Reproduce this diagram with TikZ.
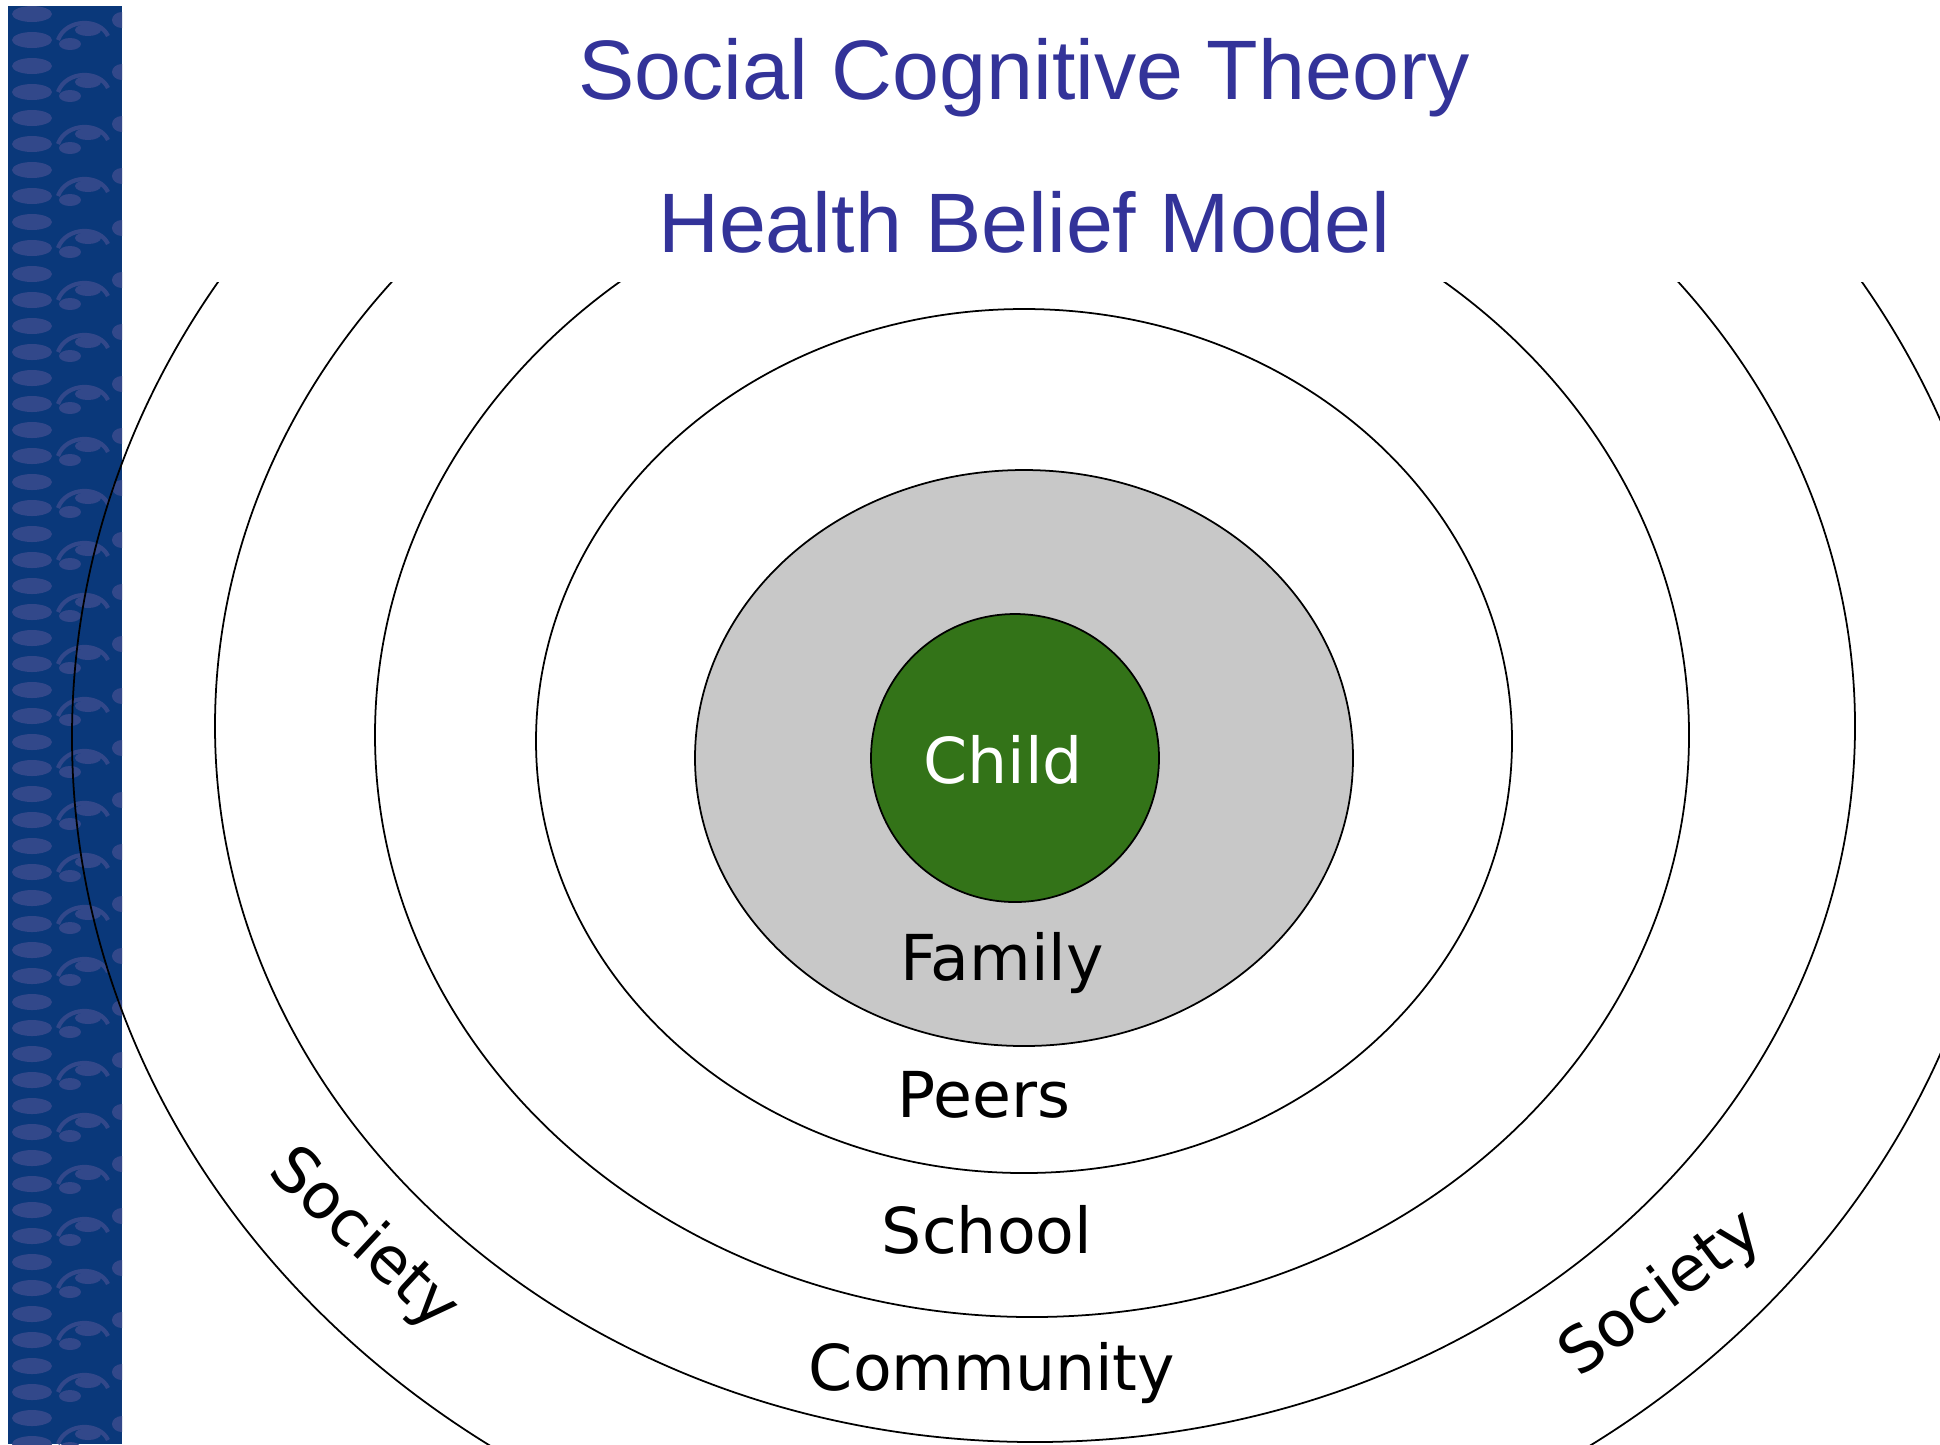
\documentclass[tikz,border=0pt]{standalone}
\usepackage{fontspec}
\setmainfont{DejaVu Sans}
\newfontfamily\titlefont{Liberation Sans}
\usepackage{tikz}
\usetikzlibrary{positioning}

\definecolor{titleblue}{RGB}{51,51,153}
\definecolor{barblue}{RGB}{10,56,122}
\definecolor{barspot}{RGB}{50,72,138}
\definecolor{familygray}{RGB}{200,200,200}
\definecolor{childgreen}{RGB}{51,115,24}

\tikzset{
  ringline/.style={draw=black, line width=0.5pt},
  ringtext/.style={font=\fontsize{18}{20}\selectfont, anchor=base, inner sep=0pt},
  heading/.style={font=\titlefont\fontsize{24}{28}\selectfont, text=titleblue, anchor=base, inner sep=0pt}
}

\begin{document}
\begin{tikzpicture}[x=0.01cm, y=-0.01cm]
    \useasboundingbox (0,0) rectangle (1940,1444);

    % patterned side bar
    \fill[barblue] (8,6) rectangle (122,1444);
    \begin{scope}
        \clip (8,6) rectangle (122,1444);
        \foreach \y in {0,26,...,1430}
            \fill[barspot] (32,\y+14) ellipse [x radius=20, y radius=8];
        \foreach \y in {0,52,...,1430} {
            \fill[barspot] (70,\y+44) ellipse [x radius=11, y radius=6];
            \fill[barspot] (88,\y+30) ellipse [x radius=13, y radius=6];
            \draw[barspot, line width=1.2pt] (58,\y+40) .. controls (66,\y+18) and (100,\y+18) .. (108,\y+36);
            \fill[barspot] (122,\y+20) ellipse [x radius=10, y radius=8];
        }
    \end{scope}

    % outer rings, cut off under the headings
    \begin{scope}
        \clip (0,282) rectangle (1940,1444);
        \draw[ringline] (1040,737) ellipse [x radius=968, y radius=861];
        \draw[ringline] (1035,726) ellipse [x radius=820, y radius=716];
        \draw[ringline] (1032,735) ellipse [x radius=657, y radius=582];
    \end{scope}
    \draw[ringline] (1024,741) ellipse [x radius=488, y radius=432];
    \draw[ringline, fill=familygray] (1024,758) ellipse [x radius=329, y radius=288];
    \draw[ringline, fill=childgreen] (1015,758) circle [radius=144];

    \node[heading] (sct) at (1024,99) {Social Cognitive Theory};
    \node[heading] (hbm) at (1024,252) {Health Belief Model};

    \node[ringtext, text=white] (child) at (1003,783) {Child};
    \node[ringtext] (family) at (1002,980) {Family};
    \node[ringtext] (peers) at (984,1117) {Peers};
    \node[ringtext] (school) at (987,1253) {School};
    \node[ringtext] (community) at (992,1390) {Community};
    \node[ringtext, anchor=center, rotate=-43] (societyl) at (363,1240) {Society};
    \node[ringtext, anchor=center, rotate=37] (societyr) at (1662,1295) {Society};
\end{tikzpicture}
\end{document}
